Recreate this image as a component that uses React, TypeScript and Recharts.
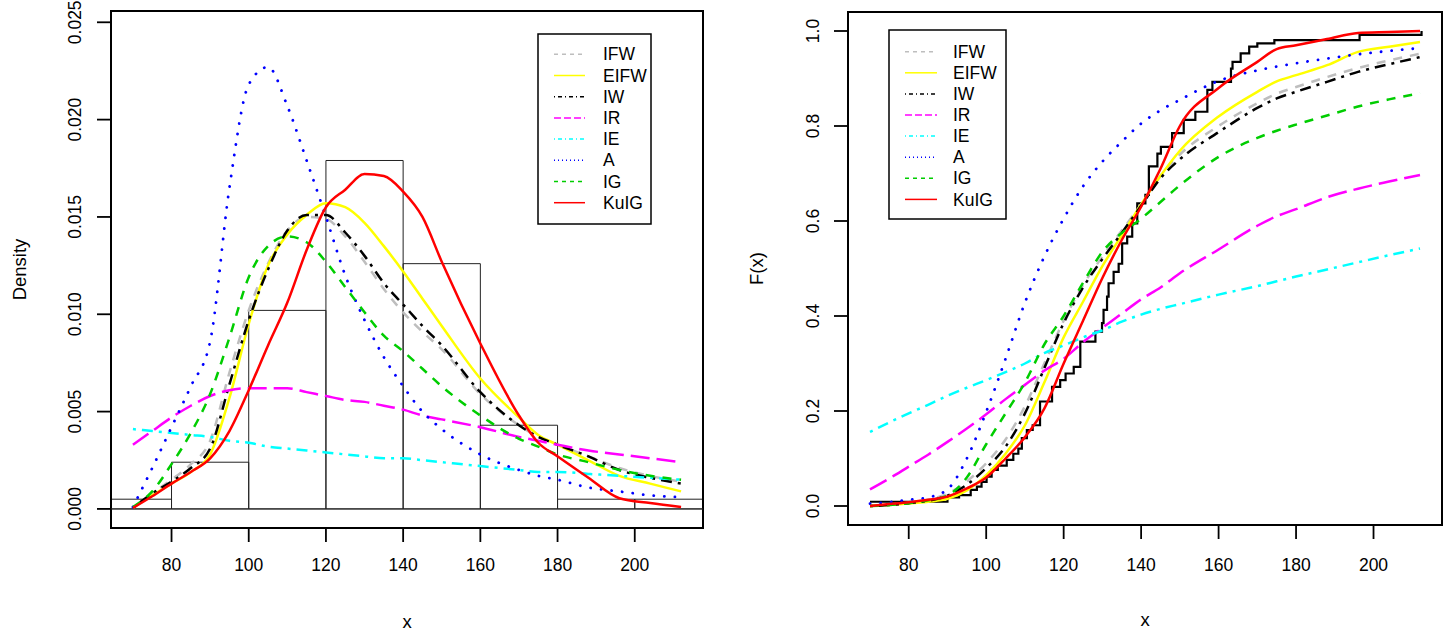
import { ComposedChart, Line, XAxis, YAxis, ReferenceArea, ReferenceLine } from "recharts";

const FONT = '"Liberation Sans", Arial, Helvetica, sans-serif';

// shared evaluation grid for the fitted curves
const xGrid = [70, 75, 80, 85, 90, 95, 100, 105, 110, 115, 120, 125, 130, 135, 140, 145, 150, 160, 170, 175, 180, 188, 196, 204, 212];
const xTicks = [80, 100, 120, 140, 160, 180, 200];
const densTicks = [0, 0.005, 0.01, 0.015, 0.02, 0.025];
const cdfTicks = [0, 0.2, 0.4, 0.6, 0.8, 1];

// histogram (density scale)
const histBreaks = [60, 80, 100, 120, 140, 160, 180, 200, 220];
const histDensity = [0.0005, 0.0024, 0.0102, 0.0179, 0.0126, 0.0043, 0.0005, 0.0005];

// fitted densities
const pdfIFW = [0.00005, 0.0008, 0.0015, 0.0023, 0.0035, 0.007, 0.0102, 0.0126, 0.0143, 0.015, 0.0149, 0.014, 0.0127, 0.0113, 0.0101, 0.0091, 0.0082, 0.0059, 0.0043, 0.0037, 0.0033, 0.0027, 0.0021, 0.0017, 0.0014];
const pdfEIFW = [0.00005, 0.0007, 0.0013, 0.0019, 0.0028, 0.0057, 0.0095, 0.0125, 0.0141, 0.0151, 0.0157, 0.0155, 0.0147, 0.0135, 0.0122, 0.0108, 0.0094, 0.0067, 0.0047, 0.0038, 0.0033, 0.0025, 0.0017, 0.0013, 0.0009];
const pdfIW = [0.00005, 0.0008, 0.0014, 0.0021, 0.0031, 0.0064, 0.0097, 0.0123, 0.0143, 0.0151, 0.0151, 0.0142, 0.013, 0.0116, 0.0105, 0.0094, 0.0084, 0.006, 0.0043, 0.0037, 0.0033, 0.0027, 0.002, 0.0016, 0.0013];
const pdfIR = [0.0033, 0.004, 0.0047, 0.0053, 0.0058, 0.0061, 0.0062, 0.0062, 0.0062, 0.006, 0.0058, 0.0056, 0.0055, 0.0053, 0.0051, 0.0048, 0.0046, 0.0042, 0.0037, 0.0035, 0.0033, 0.003, 0.0028, 0.0026, 0.0024];
const pdfIE = [0.0041, 0.004, 0.0039, 0.0038, 0.0037, 0.0035, 0.0034, 0.0032, 0.0031, 0.003, 0.0029, 0.0028, 0.0027, 0.0026, 0.0026, 0.0025, 0.0024, 0.0022, 0.002, 0.0019, 0.0019, 0.0018, 0.0017, 0.0016, 0.0015];
const pdfA = [0.0001, 0.0021, 0.0042, 0.0063, 0.0086, 0.0165, 0.0218, 0.0227, 0.0207, 0.0179, 0.015, 0.012, 0.0097, 0.0078, 0.0063, 0.005, 0.0041, 0.0028, 0.002, 0.0017, 0.0015, 0.0011, 0.0009, 0.0007, 0.0006];
const pdfIG = [0.0001, 0.0009, 0.0023, 0.0039, 0.0059, 0.0088, 0.0119, 0.0135, 0.014, 0.0137, 0.0127, 0.0114, 0.0101, 0.0089, 0.0081, 0.0072, 0.0063, 0.0048, 0.0036, 0.0032, 0.0028, 0.0024, 0.002, 0.0017, 0.0015];
const pdfKuIG = [0.00005, 0.00065, 0.0013, 0.0019, 0.0026, 0.004, 0.0061, 0.0084, 0.0106, 0.0133, 0.0155, 0.0164, 0.0172, 0.0171, 0.0163, 0.015, 0.0127, 0.0085, 0.0048, 0.0034, 0.0027, 0.0016, 0.00055, 0.0003, 0.0001];

// fitted cdfs
const cdfIFW = [0, 0.003, 0.007, 0.013, 0.026, 0.052, 0.09, 0.14, 0.21, 0.3, 0.39, 0.465, 0.525, 0.58, 0.635, 0.695, 0.74, 0.8, 0.848, 0.868, 0.882, 0.903, 0.922, 0.938, 0.952];
const cdfEIFW = [0, 0.002, 0.005, 0.009, 0.015, 0.033, 0.065, 0.11, 0.17, 0.26, 0.355, 0.43, 0.505, 0.57, 0.635, 0.695, 0.748, 0.82, 0.872, 0.894, 0.907, 0.928, 0.956, 0.967, 0.977];
const cdfIW = [0, 0.002, 0.006, 0.011, 0.022, 0.045, 0.08, 0.125, 0.195, 0.29, 0.385, 0.46, 0.52, 0.575, 0.632, 0.69, 0.73, 0.787, 0.838, 0.858, 0.872, 0.893, 0.914, 0.93, 0.945];
const cdfIR = [0.035, 0.058, 0.083, 0.108, 0.135, 0.163, 0.193, 0.225, 0.255, 0.285, 0.31, 0.345, 0.375, 0.405, 0.435, 0.46, 0.49, 0.54, 0.59, 0.61, 0.625, 0.65, 0.668, 0.683, 0.697];
const cdfIE = [0.156, 0.176, 0.195, 0.213, 0.232, 0.249, 0.265, 0.282, 0.3, 0.322, 0.338, 0.355, 0.37, 0.388, 0.403, 0.415, 0.425, 0.445, 0.463, 0.473, 0.483, 0.498, 0.513, 0.528, 0.542];
const cdfA = [0.005, 0.008, 0.013, 0.018, 0.035, 0.1, 0.198, 0.31, 0.428, 0.525, 0.605, 0.673, 0.725, 0.767, 0.805, 0.833, 0.855, 0.895, 0.917, 0.925, 0.932, 0.942, 0.951, 0.958, 0.964];
const cdfIG = [0, 0.002, 0.006, 0.012, 0.022, 0.06, 0.13, 0.195, 0.26, 0.34, 0.4, 0.47, 0.535, 0.575, 0.605, 0.64, 0.675, 0.735, 0.775, 0.79, 0.803, 0.822, 0.841, 0.856, 0.869];
const cdfKuIG = [0, 0.004, 0.008, 0.013, 0.02, 0.037, 0.06, 0.1, 0.145, 0.205, 0.3, 0.39, 0.48, 0.56, 0.63, 0.71, 0.8, 0.88, 0.935, 0.962, 0.97, 0.983, 0.996, 0.998, 1.0];

// empirical cdf (jump points and value after the jump)
const ecdfX = [70, 90, 93, 96, 97.6, 98.8, 100.1, 101.4, 103, 105.3, 107, 108.3, 109.2, 110.5, 112, 113.9, 117, 119.1, 120.5, 122.6, 124.3, 128.2, 129.9, 130.3, 131.2, 131.6, 132.9, 134.2, 135.1, 136.4, 137.7, 139, 141.1, 142, 144.2, 145.1, 148, 151, 154, 157.1, 158.4, 163.2, 163.6, 165.7, 167.9, 170, 174.4, 196.4, 212.4];
const ecdfF = [0.009, 0.018, 0.023, 0.034, 0.041, 0.051, 0.062, 0.076, 0.085, 0.097, 0.11, 0.121, 0.143, 0.16, 0.17, 0.22, 0.251, 0.265, 0.279, 0.293, 0.346, 0.367, 0.385, 0.413, 0.441, 0.469, 0.493, 0.51, 0.553, 0.567, 0.595, 0.637, 0.655, 0.715, 0.742, 0.756, 0.785, 0.813, 0.83, 0.876, 0.893, 0.921, 0.935, 0.953, 0.967, 0.974, 0.981, 0.992, 1.0];

const SERIES = [
  { key: "IFW", color: "#BEBEBE", dash: "9 8", legendDash: "4 4", cap: "butt" },
  { key: "EIFW", color: "#FFFF00", dash: undefined, legendDash: undefined, cap: "butt" },
  { key: "IW", color: "#000000", dash: "3 6 11 6", legendDash: "1 3 4 3", cap: "butt" },
  { key: "IR", color: "#FF00FF", dash: "19 7", legendDash: "7 3", cap: "butt" },
  { key: "IE", color: "#00FFFF", dash: "3 6 11 6", legendDash: "1 3 4 3", cap: "butt" },
  { key: "A", color: "#0000FF", dash: "0.1 10.5", legendDash: "1 3", cap: "round" },
  { key: "IG", color: "#00CD00", dash: "9 8", legendDash: "4 4", cap: "butt" },
  { key: "KuIG", color: "#FF0000", dash: undefined, legendDash: undefined, cap: "butt" },
];

const pdfRows = xGrid.map((x, i) => ({
  x,
  IFW: pdfIFW[i],
  EIFW: pdfEIFW[i],
  IW: pdfIW[i],
  IR: pdfIR[i],
  IE: pdfIE[i],
  A: pdfA[i],
  IG: pdfIG[i],
  KuIG: pdfKuIG[i],
}));

const cdfRows = xGrid.map((x, i) => ({
  x,
  IFW: cdfIFW[i],
  EIFW: cdfEIFW[i],
  IW: cdfIW[i],
  IR: cdfIR[i],
  IE: cdfIE[i],
  A: cdfA[i],
  IG: cdfIG[i],
  KuIG: cdfKuIG[i],
}));

const ecdfRows = ecdfX.map((x, i) => ({ x, F: ecdfF[i] }));

const bins = histDensity.map((d, i) => ({ x1: histBreaks[i], x2: histBreaks[i + 1], d }));

const X_DOMAIN: [number, number] = [64.32, 217.68];
const DENS_DOMAIN: [number, number] = [-0.00098, 0.02558];
const CDF_DOMAIN: [number, number] = [-0.04, 1.04];

const tickStyle = { fontFamily: FONT, fontSize: 17.5, fill: "#000" };
const titleStyle = { fontFamily: FONT, fontSize: 18.5, fill: "#000" };

function XTick(props: any) {
  return (
    <text x={props.x} y={props.y} dy="0.35em" textAnchor="middle" style={tickStyle}>
      {props.payload.value}
    </text>
  );
}

function makeYTick(digits: number) {
  return (props: any) => {
    const { x, y, payload } = props;
    return (
      <text x={x} y={y} dy="0.35em" textAnchor="middle" transform={`rotate(-90, ${x}, ${y})`} style={tickStyle}>
        {Number(payload.value).toFixed(digits)}
      </text>
    );
  };
}

function yTitle(text: string, dx: number) {
  return (p: any) => {
    const vb = p.viewBox;
    const cx = vb.x + dx;
    const cy = vb.y + vb.height / 2;
    return (
      <text x={cx} y={cy} dy="0.35em" textAnchor="middle" transform={`rotate(-90, ${cx}, ${cy})`} style={titleStyle}>
        {text}
      </text>
    );
  };
}

function xTitle(text: string, dy: number) {
  return (p: any) => {
    const vb = p.viewBox;
    return (
      <text x={vb.x + vb.width / 2} y={vb.y + dy} dy="0.35em" textAnchor="middle" style={titleStyle}>
        {text}
      </text>
    );
  };
}

function CurveLines() {
  return SERIES.map((s) => (
    <Line
      key={s.key}
      dataKey={s.key}
      type="monotone"
      stroke={s.color}
      strokeWidth={s.key === "A" ? 2.8 : 2.5}
      strokeDasharray={s.dash}
      strokeLinecap={s.cap as any}
      dot={false}
      activeDot={false}
      isAnimationActive={false}
    />
  ));
}

function LegendBox({ left, top, width, height, lineX1, lineX2, textX, rowY0, rowStep }: any) {
  return (
    <svg
      width={width + 4}
      height={height + 4}
      style={{ position: "absolute", left: left - 2, top: top - 2, overflow: "visible" }}>
      <g transform="translate(2,2)">
        <rect x={0} y={0} width={width} height={height} fill="#fff" stroke="#000" strokeWidth={1.5} />
        {SERIES.map((s, i) => {
          const y = rowY0 + i * rowStep;
          return (
            <g key={s.key}>
              <line
                x1={lineX1}
                x2={lineX2}
                y1={y}
                y2={y}
                stroke={s.color}
                strokeWidth={1.5}
                strokeDasharray={s.legendDash}
              />
              <text x={textX} y={y} dy="0.35em" style={{ fontFamily: FONT, fontSize: 17.5, fill: "#000" }}>
                {s.key}
              </text>
            </g>
          );
        })}
      </g>
    </svg>
  );
}

function DensityPanel() {
  return (
    <ComposedChart width={724} height={634} data={pdfRows} margin={{ top: 11, right: 21, bottom: 0, left: 0 }}>
      <XAxis
        type="number"
        dataKey="x"
        domain={X_DOMAIN}
        allowDataOverflow
        ticks={xTicks}
        interval={0}
        height={106}
        tickSize={14}
        tickMargin={23}
        axisLine={false}
        tickLine={{ stroke: "#000", strokeWidth: 1.8 }}
        tick={<XTick />}
        label={xTitle("x", 94)}
      />
      <YAxis
        type="number"
        domain={DENS_DOMAIN}
        allowDataOverflow
        ticks={densTicks}
        interval={0}
        width={111}
        tickSize={14}
        tickMargin={22}
        axisLine={false}
        tickLine={{ stroke: "#000", strokeWidth: 1.8 }}
        tick={makeYTick(3)}
        label={yTitle("Density", 20)}
      />
      {bins.map((b) => (
        <ReferenceArea
          key={b.x1}
          x1={b.x1}
          x2={b.x2}
          y1={0}
          y2={b.d}
          fill="none"
          fillOpacity={0}
          stroke="#222"
          strokeWidth={1}
          ifOverflow="hidden"
        />
      ))}
      <ReferenceLine y={0} stroke="#222" strokeWidth={1} ifOverflow="hidden" />
      {CurveLines()}
      <ReferenceArea
        x1={X_DOMAIN[0]}
        x2={X_DOMAIN[1]}
        y1={DENS_DOMAIN[0]}
        y2={DENS_DOMAIN[1]}
        fill="none"
        fillOpacity={0}
        stroke="#000"
        strokeWidth={2}
        ifOverflow="visible"
      />
    </ComposedChart>
  );
}

function CdfPanel() {
  return (
    <ComposedChart width={724} height={634} data={cdfRows} margin={{ top: 12, right: 6, bottom: 0, left: 0 }}>
      <XAxis
        type="number"
        dataKey="x"
        domain={X_DOMAIN}
        allowDataOverflow
        ticks={xTicks}
        interval={0}
        height={109}
        tickSize={14}
        tickMargin={26}
        axisLine={false}
        tickLine={{ stroke: "#000", strokeWidth: 1.8 }}
        tick={<XTick />}
        label={xTitle("x", 95)}
      />
      <YAxis
        type="number"
        domain={CDF_DOMAIN}
        allowDataOverflow
        ticks={cdfTicks}
        interval={0}
        width={124}
        tickSize={14}
        tickMargin={21}
        axisLine={false}
        tickLine={{ stroke: "#000", strokeWidth: 1.8 }}
        tick={makeYTick(1)}
        label={yTitle("F(x)", 33)}
      />
      <Line
        data={ecdfRows}
        dataKey="F"
        type="stepAfter"
        stroke="#000"
        strokeWidth={2.2}
        dot={false}
        activeDot={false}
        isAnimationActive={false}
      />
      {CurveLines()}
      <ReferenceArea
        x1={X_DOMAIN[0]}
        x2={X_DOMAIN[1]}
        y1={CDF_DOMAIN[0]}
        y2={CDF_DOMAIN[1]}
        fill="none"
        fillOpacity={0}
        stroke="#000"
        strokeWidth={2}
        ifOverflow="visible"
      />
    </ComposedChart>
  );
}

export default function App() {
  return (
    <div
      style={{
        position: "absolute",
        left: 0,
        top: 0,
        width: 1448,
        height: 634,
        background: "#fff",
        fontFamily: FONT,
        overflow: "hidden",
      }}>
      <div style={{ position: "absolute", left: 0, top: 0 }}>
        <DensityPanel />
      </div>
      <div style={{ position: "absolute", left: 724, top: 0 }}>
        <CdfPanel />
      </div>
      <LegendBox left={538} top={34} width={113} height={190} lineX1={16} lineX2={47} textX={65} rowY0={20.3} rowStep={21.2} />
      <LegendBox left={889} top={30} width={117} height={189} lineX1={16} lineX2={48} textX={64} rowY0={21.7} rowStep={21.1} />
    </div>
  );
}
